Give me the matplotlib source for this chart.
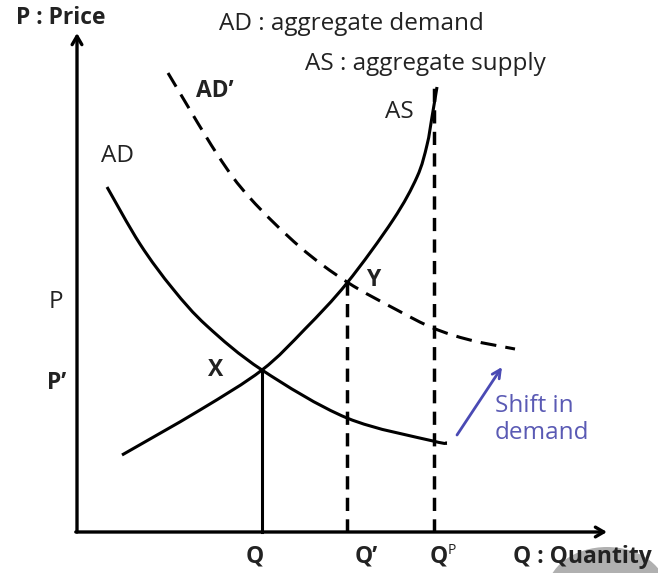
import matplotlib
matplotlib.use("Agg")
import matplotlib.pyplot as plt
from matplotlib.patches import Ellipse, PathPatch
from matplotlib.path import Path

# ---- data (q = quantity units, p = price units) ----
ad_q = [30, 63, 96, 130, 185, 270, 356, 370]
ad_p = [345, 288, 243, 206, 162, 114, 91, 89]

as_q = [45, 123, 185, 228, 270, 316, 340, 350, 355, 360]
as_p = [77, 122, 162, 203, 249, 312, 355, 387, 415, 445]

ad2_q = [91, 140, 173, 223, 270, 320, 356, 393, 438]
ad2_p = [459, 378, 334, 285, 250, 222, 204, 192, 183]

q_eq = 185      # Q   (point X)
p_x = 162
q_prime = 270   # Q'  (point Y)
p_y = 250
q_p = 357       # Q^P (potential)
p_top = 445

p_label_P = 230
p_label_P2 = 149


def smooth_path(xs, ys):
    """Catmull-Rom through the read points, expressed as cubic Bezier segments."""
    pts = list(zip(xs, ys))
    verts = [pts[0]]
    codes = [Path.MOVETO]
    n = len(pts)
    for i in range(n - 1):
        p0 = pts[i - 1] if i > 0 else pts[i]
        p1 = pts[i]
        p2 = pts[i + 1]
        p3 = pts[i + 2] if i + 2 < n else pts[i + 1]
        c1 = (p1[0] + (p2[0] - p0[0]) / 6, p1[1] + (p2[1] - p0[1]) / 6)
        c2 = (p2[0] - (p3[0] - p1[0]) / 6, p2[1] - (p3[1] - p1[1]) / 6)
        verts += [c1, c2, p2]
        codes += [Path.CURVE4] * 3
    return Path(verts, codes)


FONT = "Open Sans"
fig = plt.figure(figsize=(6.58, 5.73), dpi=100)
ax = fig.add_axes([0, 0, 1, 1])
ax.set_xlim(-77, 581)
ax.set_ylim(-41, 532)
ax.axis("off")

lw = 2.2
# axes arrows
ax.annotate("", xy=(0, 499), xytext=(0, 0),
            arrowprops=dict(arrowstyle="->,head_length=0.6,head_width=0.35", lw=2.4, color="black",
                            shrinkA=0, shrinkB=0))
ax.annotate("", xy=(530, 0), xytext=(-1.2, 0),
            arrowprops=dict(arrowstyle="->,head_length=0.6,head_width=0.35", lw=2.4, color="black",
                            shrinkA=0, shrinkB=0))

# curves
ax.add_patch(PathPatch(smooth_path(ad_q, ad_p), fill=False, edgecolor="black", lw=lw, capstyle="butt"))
ax.add_patch(PathPatch(smooth_path(as_q, as_p), fill=False, edgecolor="black", lw=lw, capstyle="butt"))
ax.add_patch(PathPatch(smooth_path(ad2_q, ad2_p), fill=False, edgecolor="black", lw=lw,
                       linestyle=(0, (5.2, 3.0)), capstyle="butt"))

# vertical guide lines
ax.plot([q_eq, q_eq], [0, p_x], color="black", lw=lw)
ax.plot([q_prime, q_prime], [0, p_y], color="black", lw=lw + 0.3, dashes=(3.8, 2.4))
ax.plot([q_p, q_p], [0, p_top], color="black", lw=lw + 0.3, dashes=(3.8, 2.4))

# decorative gray blob
ax.add_patch(Ellipse((530, -60), 120, 90, color="#b0b0b0", zorder=0, lw=0))

fs = 16.5
fr = 17.5
tk = dict(family=FONT, color="#222222")
ax.text(-16.5, 514, "P : Price", ha="center", va="center", fontsize=fs, fontweight="bold", **tk)
ax.text(142, 508, "AD : aggregate demand", ha="left", va="center", fontsize=fr, **tk)
ax.text(228, 468, "AS : aggregate supply", ha="left", va="center", fontsize=fr, **tk)
ax.text(119, 441, "AD\u2019", ha="left", va="center", fontsize=fs, fontweight="bold", **tk)
ax.text(308, 420, "AS", ha="left", va="center", fontsize=fr, **tk)
ax.text(24, 376, "AD", ha="left", va="center", fontsize=fr, **tk)
ax.text(-21, p_label_P, "P", ha="center", va="center", fontsize=fr, **tk)
ax.text(-20, p_label_P2, "P\u2019", ha="center", va="center", fontsize=fs, fontweight="bold", **tk)
ax.text(139, p_x, "X", ha="center", va="center", fontsize=fs, fontweight="bold", **tk)
ax.text(296, p_y + 2, "Y", ha="center", va="center", fontsize=fs, fontweight="bold", **tk)
ax.text(q_eq - 7, -24, "Q", ha="center", va="center", fontsize=fs, fontweight="bold", **tk)
ax.text(q_prime + 19, -24, "Q\u2019", ha="center", va="center", fontsize=fs, fontweight="bold", **tk)
ax.text(q_p + 5, -24, "Q", ha="center", va="center", fontsize=fs, fontweight="bold", **tk)
ax.text(q_p + 14, -18, "P", ha="left", va="center", fontsize=10, **tk)
ax.text(436, -25, "Q : Quantity", ha="left", va="center", fontsize=fs, fontweight="bold", **tk)

blue = "#5a5ab4"
ax.text(418, 126, "Shift in", ha="left", va="center", fontsize=fr, color=blue, family=FONT)
ax.text(418, 99, "demand", ha="left", va="center", fontsize=fr, color=blue, family=FONT)
ax.annotate("", xy=(425, 165), xytext=(380, 97),
            arrowprops=dict(arrowstyle="->,head_length=0.6,head_width=0.3", lw=2.0, color="#4a4ab4",
                            shrinkA=0, shrinkB=0))

fig.savefig("out.png", dpi=100)
